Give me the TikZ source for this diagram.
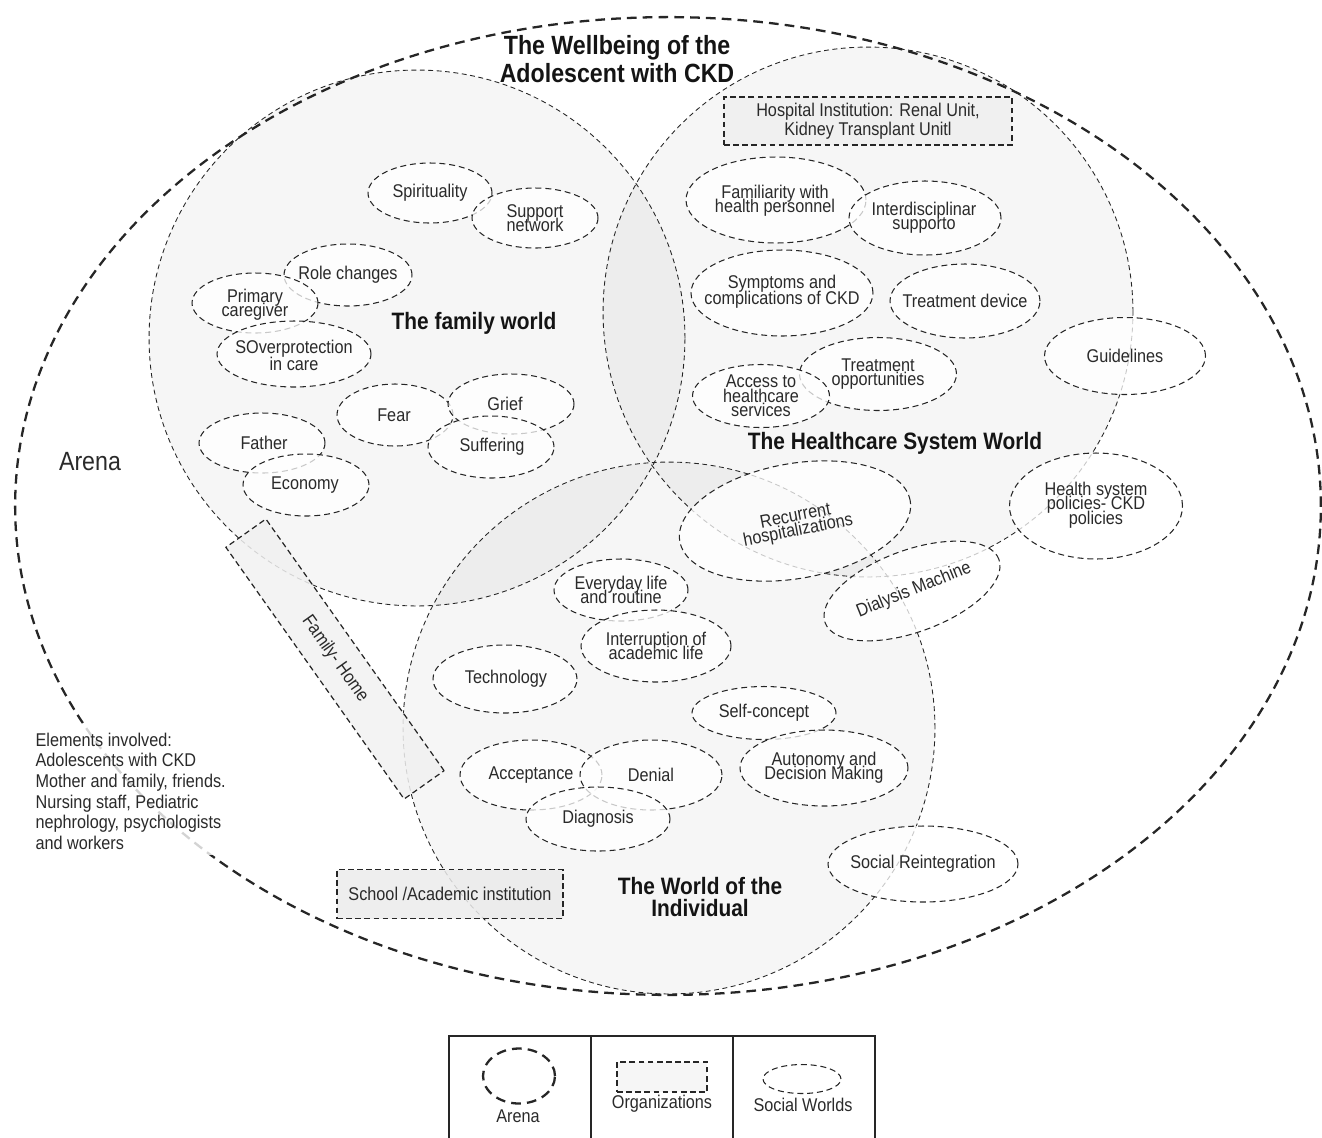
\documentclass[tikz,border=0pt]{standalone}
\usepackage{fontspec}
\setmainfont{Liberation Sans}[FakeStretch=0.88]
\usetikzlibrary{shapes.geometric}
\definecolor{ink}{HTML}{262626}
\definecolor{txt}{HTML}{2A2A2A}
\definecolor{hospfill}{HTML}{EFEFEF}
\definecolor{schoolfill}{HTML}{EBEBEB}
\definecolor{homefill}{HTML}{F1F1F1}
\definecolor{legfill}{HTML}{F5F5F5}
\newcommand{\tightlines}[2]{\fontsize{#1}{#2}\selectfont\lineskiplimit=-20pt\lineskip=0pt}
\begin{document}
\begin{tikzpicture}[x=0.02cm,y=-0.02cm,
  lbl/.style={text=txt, font=\tightlines{10.5}{8.2}, align=center, inner sep=0pt},
  sw/.style={ellipse, draw=ink, line width=0.6pt, dash pattern=on 3.4pt off 2.2pt,
             fill=white, fill opacity=0.75, inner sep=0pt},
  world/.style={circle, draw=ink, line width=0.5pt, dash pattern=on 2.8pt off 2pt,
             fill=black, fill opacity=0.035, inner sep=0pt},
  arenastyle/.style={ellipse, draw=ink, line width=1.3pt, dash pattern=on 5.5pt off 3.5pt, inner sep=0pt},
  org/.style={rectangle, draw=ink, line width=0.7pt, dash pattern=on 3.2pt off 2pt,
             fill opacity=0.85, text opacity=1, text=txt, inner sep=0pt,
             font=\tightlines{10.5}{10.8}, align=center},
  big/.style={text=black!92, font=\bfseries\tightlines{13.5}{12}, align=center, inner sep=0pt},
  legline/.style={draw=ink, line width=0.6pt}
]
\useasboundingbox (0,0) rectangle (1322,1137);

% Arena
\node[arenastyle, minimum width=26.12cm, minimum height=19.56cm] (arena) at (668,506) {};

% Social worlds (large)
\node[world, minimum size=10.72cm] (fam) at (417,338) {};
\node[world, minimum size=10.60cm] (hcs) at (868,312) {};
\node[world, minimum size=10.64cm] (ind) at (669,728) {};

% Organizations
\node[org, fill=hospfill, minimum width=5.76cm, minimum height=0.96cm] (hosp) at (868,121)
  {Hospital Institution: Renal Unit,\\Kidney Transplant Unitl};
\node[org, fill=schoolfill, minimum width=4.52cm, minimum height=0.98cm] (school) at (450,894)
  {School /Academic institution};
\node[org, fill=homefill, minimum width=6.17cm, minimum height=0.98cm, rotate=-54.7] (home) at (335,659)
  {Family- Home};

% Family world ellipses
\node[sw, minimum width=2.48cm, minimum height=1.2cm]  (spir)   at (430,193) {};
\node[sw, minimum width=2.52cm, minimum height=1.2cm]  (supp)   at (535,218) {};
\node[sw, minimum width=2.56cm, minimum height=1.24cm] (role)   at (348,275) {};
\node[sw, minimum width=2.52cm, minimum height=1.2cm]  (prim)   at (255,303) {};
\node[sw, minimum width=3.08cm, minimum height=1.32cm] (over)   at (294,354) {};
\node[sw, minimum width=2.32cm, minimum height=1.24cm] (fear)   at (395,415) {};
\node[sw, minimum width=2.52cm, minimum height=1.2cm]  (grief)  at (511,404) {};
\node[sw, minimum width=2.52cm, minimum height=1.24cm] (suff)   at (491,447) {};
\node[sw, minimum width=2.52cm, minimum height=1.2cm]  (father) at (262,443) {};
\node[sw, minimum width=2.52cm, minimum height=1.24cm] (econ)   at (306,485) {};

% Healthcare ellipses
\node[sw, minimum width=3.6cm,  minimum height=1.72cm] (famil)  at (776,200) {};
\node[sw, minimum width=3.04cm, minimum height=1.48cm] (inter)  at (925,218) {};
\node[sw, minimum width=3.64cm, minimum height=1.72cm] (symp)   at (782,293) {};
\node[sw, minimum width=3.0cm,  minimum height=1.48cm] (tdev)   at (965,301) {};
\node[sw, minimum width=3.14cm, minimum height=1.46cm] (topp)   at (878,374) {};
\node[sw, minimum width=2.74cm, minimum height=1.26cm] (access) at (761,396) {};
\node[sw, minimum width=3.22cm, minimum height=1.54cm] (guide)  at (1125,356) {};
\node[sw, minimum width=3.46cm, minimum height=2.12cm] (hsp)    at (1096,506) {};
\node[sw, minimum width=4.68cm, minimum height=2.3cm, rotate=10] (recur) at (795,521) {};
\node[sw, minimum width=3.7cm,  minimum height=1.64cm, rotate=20] (dial) at (912,591) {};

% Individual ellipses
\node[sw, minimum width=2.68cm, minimum height=1.24cm] (every)  at (621,590) {};
\node[sw, minimum width=3.0cm,  minimum height=1.44cm] (interr) at (656,646) {};
\node[sw, minimum width=2.88cm, minimum height=1.36cm] (tech)   at (505,679) {};
\node[sw, minimum width=2.88cm, minimum height=1.06cm] (self)   at (764,713) {};
\node[sw, minimum width=3.36cm, minimum height=1.52cm] (auton)  at (824,768) {};
\node[sw, minimum width=2.84cm, minimum height=1.4cm]  (accept) at (531,775) {};
\node[sw, minimum width=2.84cm, minimum height=1.4cm]  (denial) at (651,775) {};
\node[sw, minimum width=2.88cm, minimum height=1.28cm] (diag)   at (598,819) {};
\node[sw, minimum width=3.8cm,  minimum height=1.52cm] (social) at (923,864) {};

% Labels of social worlds
\node[lbl] at (spir)  {Spirituality};
\node[lbl] at (535,218) {Support\\network};
\node[lbl] at (348,275) {Role changes};
\node[lbl] at (255,305) {Primary\\caregiver};
\node[lbl, font=\tightlines{10.5}{9.6}] at (294,355) {SOverprotection\\in care};
\node[lbl] at (394,415) {Fear};
\node[lbl] at (505,404) {Grief};
\node[lbl] at (492,447) {Suffering};
\node[lbl] at (264,443) {Father};
\node[lbl] at (305,485) {Economy};

\node[lbl] at (775,201) {Familiarity with\\health personnel};
\node[lbl] at (924,218) {Interdisciplinar\\supporto};
\node[lbl, font=\tightlines{10.5}{9.2}] at (782,292) {Symptoms and\\complications of CKD};
\node[lbl] at (965,301) {Treatment device};
\node[lbl] at (878,374) {Treatment\\opportunities};
\node[lbl] at (761,396) {Access to\\healthcare\\services};
\node[lbl] at (1125,356) {Guidelines};
\node[lbl] at (1096,505) {Health system\\policies- CKD\\policies};
\node[lbl, rotate=11] at (797,524) {Recurrent\\hospitalizations};
\node[lbl, rotate=22] at (914,590) {Dialysis Machine};

\node[lbl] at (621,590) {Everyday life\\and routine};
\node[lbl] at (656,646) {Interruption of\\academic life};
\node[lbl] at (506,679) {Technology};
\node[lbl] at (764,713) {Self-concept};
\node[lbl] at (824,768) {Autonomy and\\Decision Making};
\node[lbl] at (531,775) {Acceptance};
\node[lbl] at (651,775) {Denial};
\node[lbl] at (598,819) {Diagnosis};
\node[lbl] at (923,864) {Social Reintegration};

% World titles
\node[big] (famt) at (474,323) {The family world};
\node[big] (hcst) at (895,443) {The Healthcare System World};
\node[big] (indt) at (700,897) {The World of the\\Individual};
\node[big, font=\bfseries\tightlines{15}{15.9}] (title) at (617,59) {The Wellbeing of the\\Adolescent with CKD};

% Arena label and elements
\node[text=txt, font=\fontsize{15}{15}\selectfont, inner sep=0pt] (arenalbl) at (90,462) {Arena};
\node[anchor=north west, fill=white, fill opacity=0.8, text opacity=1, text=txt, inner sep=3pt,
      font=\tightlines{10.5}{11.8}, align=left] (elems) at (30,727)
  {Elements involved:\\Adolescents with CKD\\Mother and family, friends.\\Nursing staff, Pediatric\\nephrology, psychologists\\and workers};

% Legend
\draw[legline] (449,1140) -- (449,1036) -- (875,1036) -- (875,1140);
\draw[legline] (591,1036) -- (591,1140);
\draw[legline] (733,1036) -- (733,1140);
\node[arenastyle, minimum width=1.44cm, minimum height=1.1cm] (legarena) at (519,1076) {};
\node[lbl] (legarenalbl) at (518,1116) {Arena};
\node[org, fill=legfill, minimum width=1.8cm, minimum height=0.6cm] (legorg) at (662,1077) {};
\node[lbl] (legorglbl) at (662,1104) {Organizations};
\node[sw, minimum width=1.56cm, minimum height=0.58cm] (legsw) at (802,1079) {};
\node[lbl] (legswlbl) at (803,1105) {Social Worlds};
\end{tikzpicture}
\end{document}
